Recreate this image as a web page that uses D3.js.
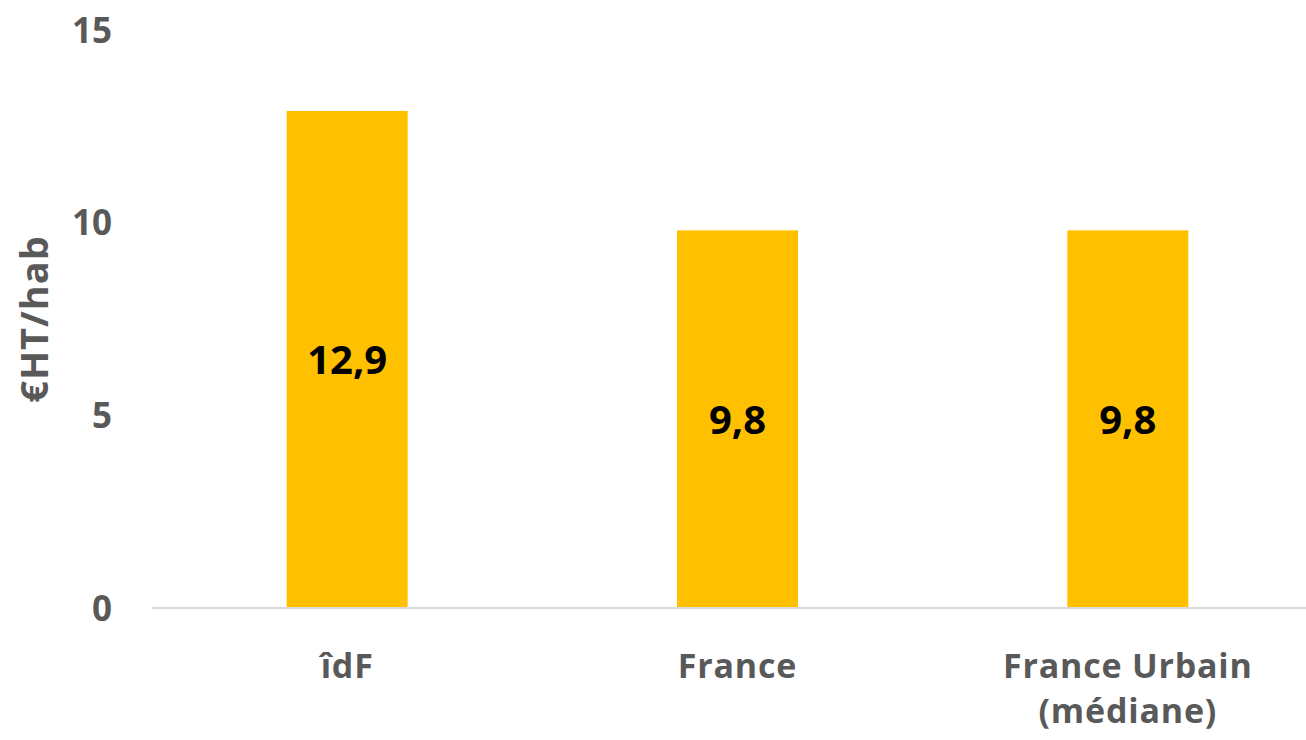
<!DOCTYPE html>
<html><head><meta charset="utf-8">
<script src="https://cdn.jsdelivr.net/npm/d3@7"></script>
<style>html,body{margin:0;padding:0;background:#fff;}svg{display:block;}</style>
</head><body>
<svg id="c" width="1306" height="740"></svg>
<script>
const categories = ["îdF", "France", "France Urbain\n(médiane)"];
const values = [12.9, 9.8, 9.8];
const valueLabels = ["12,9", "9,8", "9,8"];
const yTicks = [0, 5, 10, 15];
const yTitle = "€HT/hab";

const svg = d3.select("#c");
const font = "'Open Sans', Lato, sans-serif";
const gray = "#595959";

const x = d3.scaleBand().domain(categories).range([152, 1323]).paddingInner(0.69).paddingOuter(0.345);
const y = d3.scaleLinear().domain([0, 15]).range([608, 30]);

// axis baseline
svg.append("line").attr("x1", 152).attr("x2", 1306).attr("y1", y(0)).attr("y2", y(0))
  .attr("stroke", "#D9D9D9").attr("stroke-width", 2);

// bars
svg.selectAll("rect.bar").data(values).join("rect").attr("class","bar")
  .attr("x", (d,i) => x(categories[i]))
  .attr("width", x.bandwidth())
  .attr("y", d => y(d))
  .attr("height", d => y(0) - y(d) - 1)
  .attr("fill", "#FFC000");

// value labels
svg.selectAll("text.val").data(values).join("text").attr("class","val")
  .attr("x", (d,i) => x(categories[i]) + x.bandwidth()/2)
  .attr("y", d => (y(d) + y(0))/2)
  .attr("dy", "0.36em")
  .attr("text-anchor", "middle")
  .attr("font-family", font).attr("font-weight", "bold").attr("font-size", 40)
  .attr("fill", "#000")
  .text((d,i) => valueLabels[i]);

// y tick labels
svg.selectAll("text.yt").data(yTicks).join("text").attr("class","yt")
  .attr("x", 112).attr("y", d => y(d)).attr("dy", "0.36em")
  .attr("text-anchor", "end")
  .attr("font-family", font).attr("font-weight", "bold").attr("font-size", 35)
  .attr("fill", gray).text(d => d);

// x labels
const xl = svg.selectAll("text.xl").data(categories).join("text").attr("class","xl")
  .attr("x", d => x(d) + x.bandwidth()/2)
  .attr("y", 678)
  .attr("text-anchor", "middle")
  .attr("font-family", font).attr("font-weight", "bold").attr("font-size", 34)
  .attr("letter-spacing", 0.8)
  .attr("fill", gray);
xl.each(function(d){
  const lines = d.split("\n");
  d3.select(this).selectAll("tspan").data(lines).join("tspan")
    .attr("x", x(d) + x.bandwidth()/2)
    .attr("dy", (l,i) => i === 0 ? 0 : 45)
    .text(l => l);
});

// y title
svg.append("text")
  .attr("transform", `translate(48, ${(y(0)+y(15))/2}) rotate(-90)`)
  .attr("text-anchor", "middle")
  .attr("font-family", font).attr("font-weight", "bold").attr("font-size", 38)
  .attr("letter-spacing", 1)
  .attr("fill", gray).text(yTitle);
</script>
</body></html>
